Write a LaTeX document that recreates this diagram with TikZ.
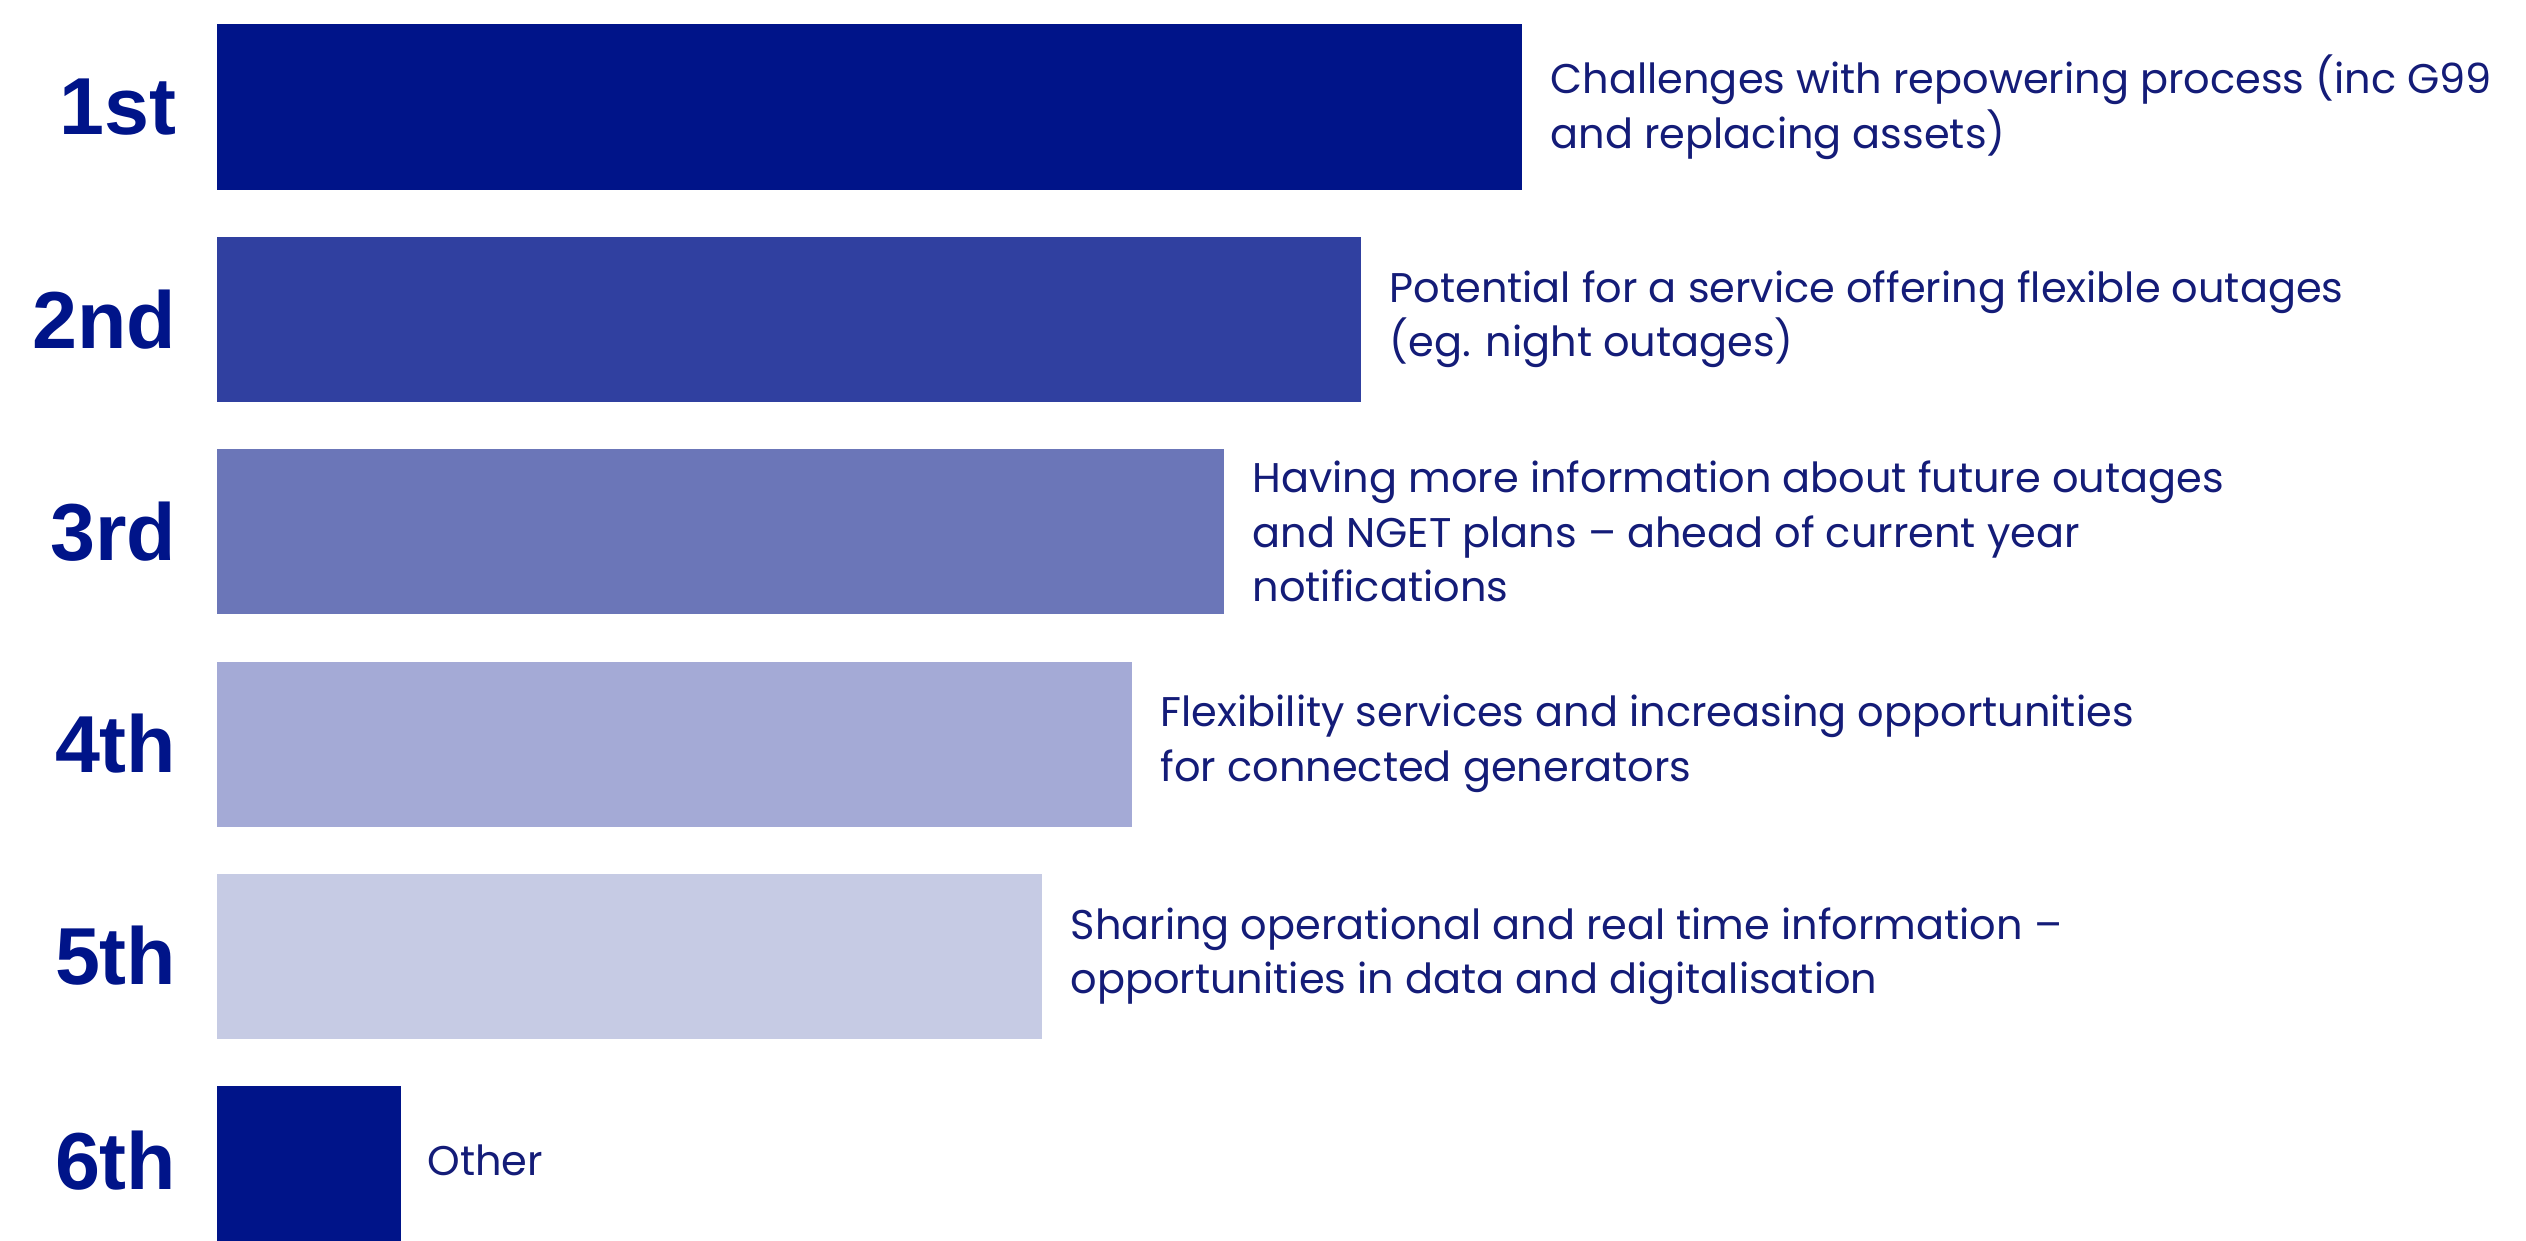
\documentclass[tikz,border=0pt]{standalone}
\usepackage{fontspec}
\setmainfont{Poppins}
\newfontfamily\rankfont{Liberation Sans}
\usetikzlibrary{positioning}
\definecolor{navy}{RGB}{0,20,137}
\definecolor{ink}{RGB}{20,28,120}
\definecolor{shadeA}{RGB}{48,64,160}
\definecolor{shadeB}{RGB}{107,118,184}
\definecolor{shadeC}{RGB}{164,170,214}
\definecolor{shadeD}{RGB}{198,203,228}
\begin{document}
\begin{tikzpicture}[bar/.style={anchor=west, minimum height=1.65cm, inner sep=0pt, outer sep=0pt},
  rank/.style={inner sep=0pt, text=navy, font=\rankfont\bfseries\fontsize{23pt}{27pt}\selectfont},
  desc/.style={inner sep=0pt, align=left, text=ink, font=\fontsize{11.8pt}{15.5pt}\selectfont}]
\useasboundingbox[fill=white] (0,0) rectangle (25.26,12.40);
\node[bar, fill=navy, minimum width=13.05cm] (b1) at (2.17,11.33) {};
\node[bar, fill=shadeA, minimum width=11.44cm] (b2) at (2.17,9.205) {};
\node[bar, fill=shadeB, minimum width=10.07cm] (b3) at (2.17,7.085) {};
\node[bar, fill=shadeC, minimum width=9.15cm] (b4) at (2.17,4.96) {};
\node[bar, fill=shadeD, minimum width=8.25cm] (b5) at (2.17,2.84) {};
\node[bar, fill=navy, minimum width=1.84cm] (b6) at (2.17,0.715) {};
\node[rank, left=0.4cm of b1] (r1) {1st};
\node[rank, left=0.4cm of b2] (r2) {2nd};
\node[rank, left=0.4cm of b3] (r3) {3rd};
\node[rank, left=0.4cm of b4] (r4) {4th};
\node[rank, left=0.4cm of b5] (r5) {5th};
\node[rank, left=0.4cm of b6, yshift=0.08cm] (r6) {6th};
\node[desc, right=0.28cm of b1] (d1) {Challenges with repowering process (inc G99\\and replacing assets)};
\node[desc, right=0.28cm of b2] (d2) {Potential for a service offering flexible outages\\(eg. night outages)};
\node[desc, right=0.28cm of b3] (d3) {Having more information about future outages\\and NGET plans -- ahead of current year\\notifications};
\node[desc, right=0.28cm of b4] (d4) {Flexibility services and increasing opportunities\\for connected generators};
\node[desc, right=0.28cm of b5] (d5) {Sharing operational and real time information --\\opportunities in data and digitalisation};
\node[desc, right=0.26cm of b6, yshift=0.08cm] (d6) {Other};
\end{tikzpicture}
\end{document}
